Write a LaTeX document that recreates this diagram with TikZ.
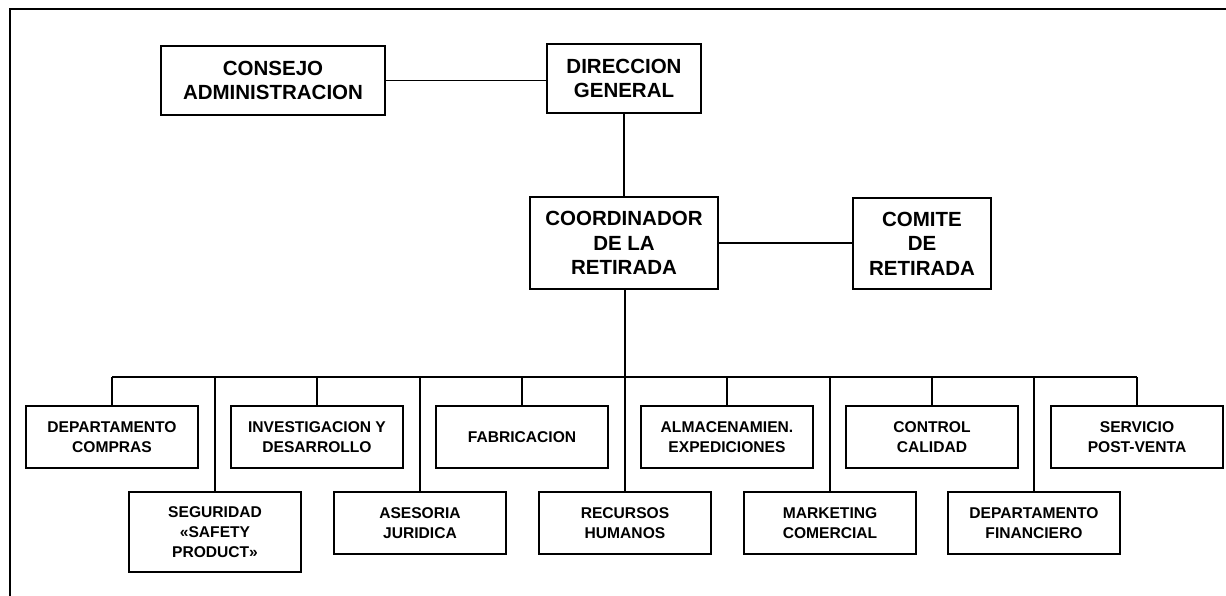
\documentclass[tikz,border=0pt]{standalone}
\usepackage{fontspec}
\setmainfont{Liberation Sans}
\begin{document}
\begin{tikzpicture}[x=1pt,y=-1pt,
  bigbox/.style={draw,line width=1.5pt,align=center,inner sep=0pt,
    font=\fontsize{20.5}{24.5}\selectfont\bfseries},
  smallbox/.style={draw,line width=1.4pt,align=center,inner sep=0pt,
    minimum width=172pt,minimum height=62pt,
    font=\fontsize{15.6}{20}\selectfont\bfseries},
  link/.style={line width=1.3pt},
  frameline/.style={line width=2.4pt}]
\useasboundingbox (0,0) rectangle (1226,596);
% frame
\coordinate (fa) at (10,9);
\coordinate (fb) at (1226,9);
\coordinate (fc) at (10,596);
\draw[frameline] (fc) -- (fa) -- (fb);
% top boxes
\node[bigbox,minimum width=224pt,minimum height=69pt] (consejo) at (273,80.5) {CONSEJO\\ADMINISTRACION};
\node[bigbox,minimum width=154pt,minimum height=69pt] (dir) at (624,78.5) {DIRECCION\\GENERAL};
\node[bigbox,line width=2pt,minimum width=188pt,minimum height=92pt] (coord) at (624,243) {COORDINADOR\\DE LA\\RETIRADA};
\node[bigbox,minimum width=138pt,minimum height=91pt] (comite) at (922,243.5) {COMITE\\DE\\RETIRADA};
% top row
\node[smallbox] (compras) at (112,437) {DEPARTAMENTO\\COMPRAS};
\node[smallbox] (invest) at (317,437) {INVESTIGACION Y\\DESARROLLO};
\node[smallbox] (fabric) at (522,437) {FABRICACION};
\node[smallbox] (almac) at (727,437) {ALMACENAMIEN.\\EXPEDICIONES};
\node[smallbox] (control) at (932,437) {CONTROL\\CALIDAD};
\node[smallbox] (servicio) at (1137,437) {SERVICIO\\POST-VENTA};
% bottom row
\node[smallbox,minimum height=80pt] (seguridad) at (215,532) {SEGURIDAD\\«SAFETY\\PRODUCT»};
\node[smallbox] (asesoria) at (420,523) {ASESORIA\\JURIDICA};
\node[smallbox] (recursos) at (625,523) {RECURSOS\\HUMANOS};
\node[smallbox] (marketing) at (830,523) {MARKETING\\COMERCIAL};
\node[smallbox] (financiero) at (1034,523) {DEPARTAMENTO\\FINANCIERO};
% connectors
\coordinate (bus) at (625,377);
\draw[link] (consejo.east) -- (consejo.east -| dir.west);
\draw[link] (dir.south) -- (coord.north);
\draw[link] (coord.east) -- (coord.east -| comite.west);
\draw[link] (coord.south -| bus) -- (bus);
\draw[link] (compras.north |- bus) -- (servicio.north |- bus);
\foreach \n in {compras,invest,fabric,almac,control,servicio,seguridad,asesoria,recursos,marketing,financiero}
  \draw[link] (\n.north |- bus) -- (\n.north);
\end{tikzpicture}
\end{document}
